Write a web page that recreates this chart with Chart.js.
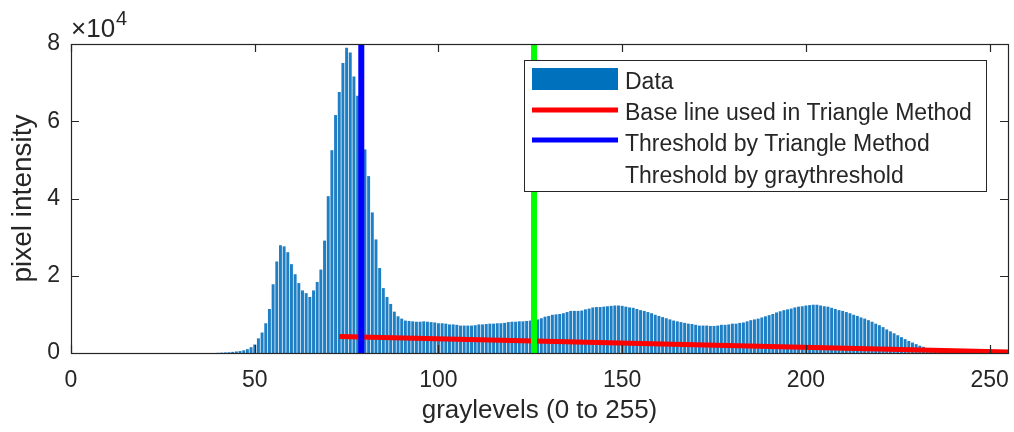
<!DOCTYPE html>
<html>
<head>
<meta charset="utf-8">
<script src="https://cdn.jsdelivr.net/npm/chart.js@4"></script>
<style>
  body { margin: 0; background: #fff; }
</style>
</head>
<body>
<canvas id="myChart" width="1014" height="432"></canvas>
<script>
// pixel counts for graylevels 0..255
const counts = [
  0, 0, 0, 0, 0, 0, 0, 0, 0, 0,
  0, 0, 0, 0, 0, 0, 0, 0, 0, 0,
  0, 0, 0, 0, 0, 0, 0, 0, 0, 0,
  0, 0, 0, 0, 0, 0, 0, 0, 0, 0,
  50, 100, 150, 200, 300, 400, 500, 700, 1000, 1500,
  2200, 3800, 5300, 7700, 11400, 17800, 23700, 27900, 27600, 26100,
  23000, 20400, 18100, 16200, 15500, 14500, 16200, 18400, 21600, 29100,
  40600, 52500, 61600, 67600, 75100, 79000, 77800, 71600, 66600, 60000,
  52700, 45800, 36400, 29400, 22000, 16800, 14500, 12700, 10700, 9500,
  8900, 8400, 8300, 8200, 8100, 8100, 8200, 8100, 8000, 7900,
  7700, 7700, 7600, 7400, 7400, 7300, 7100, 7100, 7100, 7100,
  7200, 7400, 7400, 7500, 7600, 7600, 7700, 7700, 7800, 8000,
  8100, 8100, 8200, 8200, 8300, 8400, 8500, 8700, 9000, 9400,
  9600, 9900, 10000, 10100, 10300, 10600, 10900, 10900, 10900, 11000,
  11300, 11500, 11800, 11900, 11900, 12000, 12100, 12200, 12300, 12300,
  12200, 12000, 11800, 11700, 11400, 11100, 10900, 10600, 10300, 9900,
  9600, 9300, 9000, 8700, 8400, 8200, 8000, 7800, 7600, 7500,
  7300, 7100, 7100, 7100, 7000, 7000, 7100, 7300, 7300, 7400,
  7600, 7600, 7800, 7900, 8200, 8500, 8700, 8900, 9200, 9500,
  9800, 10100, 10500, 10800, 11100, 11300, 11500, 11800, 12000, 12100,
  12300, 12400, 12500, 12500, 12300, 12100, 12000, 11700, 11400, 11100,
  10900, 10600, 10300, 9900, 9600, 9200, 8900, 8500, 8100, 7600,
  7200, 6700, 6100, 5600, 5100, 4600, 4100, 3600, 3100, 2700,
  2300, 1900, 1600, 1300, 1100, 900, 700, 600, 450, 350,
  280, 220, 170, 130, 100, 80, 60, 50, 40, 30,
  25, 20, 15, 10, 5, 0
];

const baseLineX = [73, 255];
const baseLineY = [4300, 250];
const triangleThreshold = 79;
const grayThreshold = 126;
const yTop = 80000;

const xTicks = [0, 50, 100, 150, 200, 250];
const yTicks = [0, 20000, 40000, 60000, 80000];

const legendLabels = [
  'Data',
  'Base line used in Triangle Method',
  'Threshold by Triangle Method',
  'Threshold by graythreshold'
];

const AXIS_COLOR = '#262626';
const FONT = 'Liberation Sans, Arial, sans-serif';

// box, inward ticks, legend and x10^4 label in MATLAB style
const matlabAxes = {
  id: 'matlabAxes',
  afterDraw(chart) {
    const { ctx, chartArea: a, scales } = chart;
    const tl = 8;
    ctx.save();
    ctx.strokeStyle = AXIS_COLOR;
    ctx.lineWidth = 1.2;
    ctx.beginPath();
    xTicks.forEach((v) => {
      const px = Math.round(scales.x.getPixelForValue(v)) + 0.5;
      ctx.moveTo(px, a.bottom); ctx.lineTo(px, a.bottom - tl);
      ctx.moveTo(px, a.top); ctx.lineTo(px, a.top + tl);
    });
    yTicks.forEach((v) => {
      const py = Math.round(scales.y.getPixelForValue(v)) + 0.5;
      ctx.moveTo(a.left, py); ctx.lineTo(a.left + tl, py);
      ctx.moveTo(a.right, py); ctx.lineTo(a.right - tl, py);
    });
    ctx.stroke();
    ctx.strokeRect(Math.round(a.left) + 0.5, Math.round(a.top) + 0.5,
      Math.round(a.right - a.left), Math.round(a.bottom - a.top));

    // exponent label
    ctx.fillStyle = AXIS_COLOR;
    ctx.textBaseline = 'alphabetic';
    ctx.textAlign = 'left';
    ctx.font = '26px ' + FONT;
    ctx.fillText('\u00d710', 71, 37);
    const w = ctx.measureText('\u00d710').width;
    ctx.font = '20px ' + FONT;
    ctx.fillText('4', 71 + w + 1, 25);

    // legend
    const lx = 524, ly = 60, lw = 462, lh = 131;
    ctx.fillStyle = '#fff';
    ctx.fillRect(lx, ly, lw, lh);
    ctx.lineWidth = 1;
    ctx.strokeRect(lx + 0.5, ly + 0.5, lw, lh);
    ctx.fillStyle = '#0072BD';
    ctx.fillRect(532, 68, 86, 22);
    ctx.lineWidth = 5;
    ctx.strokeStyle = '#ff0000';
    ctx.beginPath(); ctx.moveTo(532, 110); ctx.lineTo(618, 110); ctx.stroke();
    ctx.strokeStyle = '#0000ff';
    ctx.beginPath(); ctx.moveTo(532, 140); ctx.lineTo(618, 140); ctx.stroke();
    ctx.fillStyle = AXIS_COLOR;
    ctx.font = '23px ' + FONT;
    const rows = [89, 120, 151, 183];
    legendLabels.forEach((t, i) => ctx.fillText(t, 625, rows[i]));
    ctx.restore();
  }
};

window.onload = () => {
  const ctx = document.getElementById('myChart').getContext('2d');
  new Chart(ctx, {
    type: 'bar',
    data: {
      datasets: [
        {
          label: legendLabels[0],
          data: counts.map((c, i) => ({ x: i, y: c })),
          backgroundColor: '#1f7fc4',
          borderWidth: 0,
          barPercentage: 0.8,
          categoryPercentage: 1,
          order: 4,
        },
        {
          type: 'line',
          label: legendLabels[1],
          data: baseLineX.map((x, i) => ({ x: x, y: baseLineY[i] })),
          borderColor: '#ff0000',
          borderWidth: 5,
          pointRadius: 0,
          order: 3,
        },
        {
          type: 'line',
          label: legendLabels[2],
          data: [{ x: triangleThreshold, y: 0 }, { x: triangleThreshold, y: yTop }],
          borderColor: '#0000ff',
          borderWidth: 6,
          pointRadius: 0,
          order: 2,
        },
        {
          type: 'line',
          label: legendLabels[3],
          data: [{ x: grayThreshold, y: 0 }, { x: grayThreshold, y: yTop }],
          borderColor: '#00ff00',
          borderWidth: 6,
          pointRadius: 0,
          order: 1,
        },
      ],
    },
    options: {
      responsive: false,
      animation: false,
      layout: { padding: { top: 44, right: 6, left: 0, bottom: 0 } },
      plugins: { legend: { display: false }, tooltip: { enabled: false } },
      scales: {
        x: {
          type: 'linear',
          min: 0,
          max: 255,
          offset: false,
          grid: { display: false, drawTicks: false },
          border: { display: false },
          ticks: {
            stepSize: 50,
            includeBounds: false,
            padding: 14,
            color: AXIS_COLOR,
            font: { family: FONT, size: 23 },
            maxRotation: 0,
          },
          title: {
            display: true,
            text: 'graylevels (0 to 255)',
            color: AXIS_COLOR,
            font: { family: FONT, size: 26 },
            padding: { top: 0, bottom: 6 },
          },
          afterFit: (s) => { s.height = 79; s.paddingLeft = 0; s.paddingRight = 0; },
        },
        y: {
          min: 0,
          max: yTop,
          grid: { display: false, drawTicks: false },
          border: { display: false },
          ticks: {
            stepSize: 20000,
            padding: 11,
            color: AXIS_COLOR,
            font: { family: FONT, size: 23 },
            callback: (v) => v / 10000,
          },
          title: {
            display: true,
            text: 'pixel intensity',
            color: AXIS_COLOR,
            font: { family: FONT, size: 28 },
            padding: { top: 6, bottom: 0 },
          },
          afterFit: (s) => { s.width = 71; s.paddingTop = 0; s.paddingBottom = 0; },
        },
      },
    },
    plugins: [matlabAxes],
  });
};
</script>
</body>
</html>
